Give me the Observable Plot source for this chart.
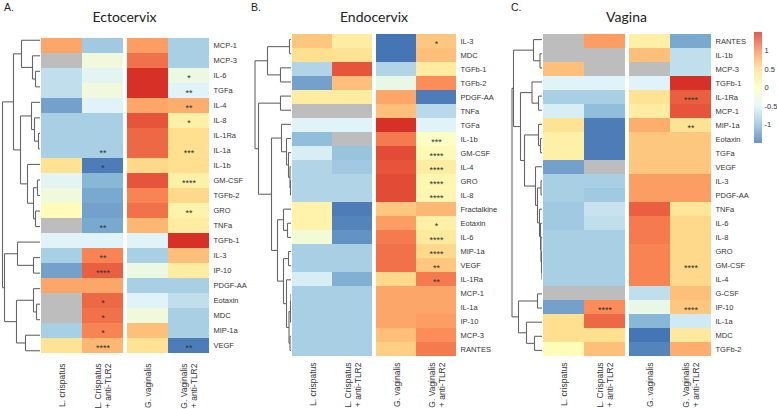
<!DOCTYPE html>
<html><head><meta charset="utf-8">
<script src="https://cdn.jsdelivr.net/npm/d3@7"></script>
<script src="https://cdn.jsdelivr.net/npm/@observablehq/plot@0.6"></script>
<style>
html,body{margin:0;padding:0;background:#fff;}
#root{position:relative;width:777px;height:409px;overflow:hidden;font-family:"Liberation Sans",Arial,sans-serif;background:#fff;}
#root > *{position:absolute;}
#root svg, #root svg text{font-family:"Liberation Sans",Arial,sans-serif !important;}
.title{font-family:Lato,sans-serif;font-size:14px;line-height:14px;text-align:center;color:#222;}
.letter{font-family:"Liberation Sans",Arial,sans-serif;font-size:10.5px;line-height:11px;color:#222;}
</style></head><body><div id="root"></div>
<script>
// ---------- data ----------
const columns = ["L. crispatus", "L. Crispatus\n+ anti-TLR2", "G. vaginalis", "G. Vaginalis\n+ anti-TLR2"];
const titles = ["Ectocervix", "Endocervix", "Vagina"];
const panelLetters = ["A.", "B.", "C."];
const legendTicks = [-1, -0.5, 0, 0.5, 1];

// Ectocervix
const ectoRows = ["MCP-1","MCP-3","IL-6","TGFa","IL-4","IL-8","IL-1Ra","IL-1a","IL-1b","GM-CSF","TGFb-2","GRO","TNFa","TGFb-1","IL-3","IP-10","PDGF-AA","Eotaxin","MDC","MIP-1a","VEGF"];
const ectoLcr     = [0.85, null, -0.7, -0.7, -1.2, -0.85, -0.85, -0.85, 0.45, -0.45, -0.25, 0.05, null, -0.5, -0.85, -1.2, 0.85, null, null, -0.85, 0.45];
const ectoLcrTLR2 = [-0.9, -0.25, -0.45, -0.25, -0.5, -0.85, -0.85, -0.85, -1.45, -1.05, -1.15, -1.2, -1.15, -0.5, 1.05, 1.25, 0.85, 1.2, 1.15, 1.05, 0.75];
const ectoGva     = [0.9, 1.15, 1.5, 1.5, 0.85, 1.3, 1.2, 1.2, 0.55, 1.3, 1.05, 1.15, 0.75, -0.5, -0.85, -0.3, -0.85, -0.5, -0.25, 0.7, 0.45];
const ectoGvaTLR2 = [-0.85, -0.85, -0.3, -0.5, 0.8, 0.25, 0.5, 0.5, 0.5, 0.25, 0.55, 0.2, 0.3, 1.5, 0.7, 0.3, -0.85, -0.7, -0.85, -0.85, -1.45];
const ectoStars = [["IL-1a",1,"**"],["IL-1b",1,"*"],["TNFa",1,"**"],["IL-3",1,"**"],["IP-10",1,"****"],["Eotaxin",1,"*"],["MDC",1,"*"],["MIP-1a",1,"*"],["VEGF",1,"****"],
  ["IL-6",3,"*"],["TGFa",3,"**"],["IL-4",3,"**"],["IL-8",3,"*"],["IL-1a",3,"***"],["GM-CSF",3,"****"],["GRO",3,"**"],["VEGF",3,"**"]];
const ectoTree = [["IL-6","TGFa",5],["MCP-3",0,8],["MCP-1",1,19],["IL-1Ra","IL-1a",2],["IL-8",3,6],["IL-4",4,9],
  ["GM-CSF","TGFb-2",3],["GRO","TNFa",5],[6,7,7],["IL-1b",8,13],[5,9,20],[2,10,27],["IL-3","IP-10",7],["TGFb-1",12,23],
  ["Eotaxin","MDC",4],["PDGF-AA",14,7],["MIP-1a","VEGF",15],[15,16,24],[13,17,36],[11,18,38]];

// Endocervix
const endoRows = ["IL-3","MDC","TGFb-1","TGFb-2","PDGF-AA","TNFa","TGFa","IL-1b","GM-CSF","IL-4","GRO","IL-8","Fractalkine","Eotaxin","IL-6","MIP-1a","VEGF","IL-1Ra","MCP-1","IL-1a","IP-10","MCP-3","RANTES"];
const endoLcr     = [0.65, 0.5, -0.8, -1.2, 0.3, null, -0.5, -1.0, -0.55, -0.8, -0.8, -0.8, 0.2, 0.2, -0.2, -0.85, -0.85, -0.55, -0.85, -0.85, -0.85, -0.85, -0.85];
const endoLcrTLR2 = [0.3, 0.45, 1.3, 0.7, 0.3, null, -0.5, null, -0.95, -0.9, -0.8, -0.8, -1.45, -1.4, -1.3, -0.85, -0.85, -1.1, -0.85, -0.85, -0.85, -0.85, -0.85];
const endoGva     = [-1.5, -1.5, -0.8, -0.35, 0.85, 0.7, 1.5, 1.1, 1.35, 1.3, 1.35, 1.35, 0.65, 0.9, 1.1, 1.15, 1.15, 0.55, 0.85, 0.85, 0.85, 0.7, 0.6];
const endoGvaTLR2 = [0.65, 0.7, 0.3, 1.0, -1.45, -0.75, -0.5, -0.05, 0.1, 0.3, 0.15, 0.15, 0.75, 0.25, 0.35, 0.55, 0.65, 1.1, 0.85, 0.85, 0.9, 1.0, 1.1];
const endoStars = [["IL-3",3,"*"],["IL-1b",3,"***"],["GM-CSF",3,"****"],["IL-4",3,"****"],["GRO",3,"****"],["IL-8",3,"****"],
  ["Eotaxin",3,"*"],["IL-6",3,"****"],["MIP-1a",3,"****"],["VEGF",3,"**"],["IL-1Ra",3,"**"]];
const endoTree = [["IL-3","MDC",2],["TGFb-1","TGFb-2",11],[0,1,24],["PDGF-AA","TNFa",11],["GRO","IL-8",1],["IL-4",4,1.5],
  ["GM-CSF",5,3],["IL-1b",6,5],["TGFa",7,10],["Eotaxin","IL-6",4],["Fractalkine",9,8],["MIP-1a","VEGF",3],["MCP-1","IL-1a",0.5],
  ["IP-10",12,1],["MCP-3","RANTES",1.5],[13,14,2.5],["IL-1Ra",15,5],[11,16,8],[10,17,14],[8,18,20],[3,19,33],[2,20,36.5]];

// Vagina
const vagRows = ["RANTES","IL-1b","MCP-3","TGFb-1","IL-1Ra","MCP-1","MIP-1a","Eotaxin","TGFa","VEGF","IL-3","PDGF-AA","TNFa","IL-6","IL-8","GRO","GM-CSF","IL-4","G-CSF","IP-10","IL-1a","MDC","TGFb-2"];
const vagLcr     = [null, null, 0.7, -0.5, -0.85, -0.55, 0.45, 0.25, 0.25, -1.2, -0.85, -0.85, -0.9, -0.9, -0.85, -0.85, -0.85, -0.85, null, -1.2, 0.5, 0.5, 0.05];
const vagLcrTLR2 = [0.9, null, null, -0.5, -0.85, -1.0, -1.45, -1.45, -1.45, null, -0.85, -0.9, -0.65, -0.7, -0.85, -0.85, -0.85, -0.85, null, 1.0, 1.2, 0.5, 0.7];
const vagGva     = [0.25, 0.7, null, -0.5, 0.45, 0.3, 0.8, 0.65, 0.65, 0.65, 0.9, 0.9, 1.25, 1.1, 1.1, 1.05, 1.05, 1.05, -0.7, -0.35, -1.05, -1.5, -1.4];
const vagGvaTLR2 = [-1.15, -0.7, -0.7, 1.5, 1.25, 1.3, 0.45, 0.65, 0.65, 0.65, 0.9, 0.9, 0.4, 0.55, 0.55, 0.55, 0.55, 0.55, 0.7, 0.65, -0.6, 0.35, 0.8];
const vagStars = [["IL-1Ra",3,"****"],["MIP-1a",3,"**"],["GM-CSF",3,"****"],["IP-10",3,"****"],["IP-10",1,"****"]];
const vagTree = [["IL-1b","MCP-3",2.5],["RANTES",0,9],["IL-1Ra","MCP-1",4],["TGFb-1",2,10.5],["Eotaxin","TGFa",2],["MIP-1a",4,4],
  ["GM-CSF","IL-4",0.5],["GRO",6,1],["IL-8",7,1.5],["IL-6",8,2],["TNFa",9,3],["IL-3","PDGF-AA",1.5],[11,10,5],["VEGF",12,7],
  [5,13,18],[3,14,22],["G-CSF","IP-10",5],["MDC","TGFb-2",8],["IL-1a",17,16],[16,18,24],[1,15,29],[20,19,30.5]];

// ---------- rendering ----------
const FONT = "Liberation Sans, Arial, sans-serif";
const colorScale = {type: "linear", domain: [-1.5,-1,-0.5,0,0.5,1,1.5],
  range: ["#4575b4","#91bfdb","#e0f3f8","#ffffbf","#fee090","#fc8d59","#d73027"]};
const root = document.getElementById("root");
const textColor = "#333";

function place(el, left, top) { el.style.position = "absolute"; el.style.left = left + "px"; el.style.top = top + "px"; root.appendChild(el); }

function heatmap(rows, series, stars, frameW, marginRight, top, bottom) {
  const cells = [];
  rows.forEach((r, i) => series.forEach((vals, j) => {
    const s = stars.find(d => d[0] === r && d[1] === j);
    cells.push({row: r, group: j < 2 ? "Lc" : "Gv", treat: j % 2 ? "TLR2" : "none", value: vals[i],
      stars: s ? s[2] : "", label: i === rows.length - 1 ? columns[j] : ""});
  }));
  return Plot.plot({
    width: frameW + marginRight, height: 409,
    marginLeft: 0, marginRight, marginTop: top, marginBottom: 409 - bottom,
    style: {background: "transparent", fontFamily: FONT, fontSize: "7.5px", color: textColor},
    facet: {data: cells, x: "group"},
    fx: {domain: ["Lc", "Gv"], paddingInner: 0.035, paddingOuter: 0, axis: null, label: null},
    x: {domain: ["none", "TLR2"], padding: 0, axis: null},
    y: {domain: rows, padding: 0, axis: "right", tickSize: 0, tickPadding: 4, label: null},
    color: colorScale,
    marks: [
      Plot.cell(cells, {x: "treat", y: "row", fill: "#bdbdbd", filter: d => d.value == null, inset: 0}),
      Plot.cell(cells, {x: "treat", y: "row", fill: "value", filter: d => d.value != null, inset: 0}),
      Plot.text(cells, {x: "treat", y: "row", text: "stars", filter: d => d.stars, fontSize: 9, dy: 2.5, fill: textColor, fontFamily: FONT}),
      Plot.text(cells, {x: "treat", text: "label", filter: d => d.label, frameAnchor: "bottom", rotate: -90,
        textAnchor: "end", lineAnchor: "middle", dy: 5, fontSize: 8.5, lineHeight: 1.2, fill: textColor, fontFamily: FONT})
    ]
  });
}

function dendro(rows, tree, width, top, bottom) {
  const pos = [], segs = [];
  const get = c => typeof c === "string" ? {h: 0, y: rows.indexOf(c) + 0.5} : pos[c];
  tree.forEach(([a, b, h]) => {
    const A = get(a), B = get(b);
    segs.push({x1: A.h, y1: A.y, x2: h, y2: A.y});
    segs.push({x1: B.h, y1: B.y, x2: h, y2: B.y});
    segs.push({x1: h, y1: A.y, x2: h, y2: B.y});
    pos.push({h, y: (A.y + B.y) / 2});
  });
  return Plot.plot({
    width, height: 409, marginLeft: 0, marginRight: 0, marginTop: top, marginBottom: 409 - bottom,
    style: {background: "transparent"},
    x: {domain: [width, 0], axis: null},
    y: {domain: [rows.length, 0], axis: null},
    marks: [Plot.link(segs, {x1: "x1", y1: "y1", x2: "x2", y2: "y2", stroke: "#666", strokeWidth: 1.1})]
  });
}

const panels = [
  {rows: ectoRows, series: [ectoLcr, ectoLcrTLR2, ectoGva, ectoGvaTLR2], stars: ectoStars, tree: ectoTree, left: 40, w: 169, mr: 45, top: 32, bottom: 358, letterX: 4},
  {rows: endoRows, series: [endoLcr, endoLcrTLR2, endoGva, endoGvaTLR2], stars: endoStars, tree: endoTree, left: 291, w: 166, mr: 45, top: 32, bottom: 357, letterX: 251},
  {rows: vagRows, series: [vagLcr, vagLcrTLR2, vagGva, vagGvaTLR2], stars: vagStars, tree: vagTree, left: 542, w: 169, mr: 40, top: 32, bottom: 357, letterX: 511}
];

panels.forEach((p, k) => {
  place(dendro(p.rows, p.tree, 40, p.top, p.bottom), p.left - 40, 0);
  place(heatmap(p.rows, p.series, p.stars, p.w, p.mr, p.top, p.bottom), p.left, 0);
  const t = document.createElement("div");
  t.className = "title"; t.textContent = titles[k]; t.style.width = p.w + "px";
  place(t, p.left, 10);
  const l = document.createElement("div");
  l.className = "letter"; l.textContent = panelLetters[k];
  place(l, p.letterX, 2);
});

// color legend
const stops = d3.range(-1.5, 1.5, 0.01);
const legend = Plot.plot({
  width: 25, height: 150, marginLeft: 2, marginRight: 15, marginTop: 32, marginBottom: 7,
  style: {background: "transparent", fontFamily: FONT, fontSize: "7.5px", color: textColor},
  x: {domain: [0, 1], axis: null},
  y: {domain: [-1.5, 1.5], ticks: legendTicks, tickSize: 0, tickPadding: 2, tickFormat: d => String(d), axis: "right", label: null},
  color: colorScale,
  marks: [Plot.rect(stops, {x1: 0, x2: 1, y1: d => d, y2: d => d + 0.012, fill: d => d + 0.005})]
});
place(legend, 752, 0);
</script></body></html>
